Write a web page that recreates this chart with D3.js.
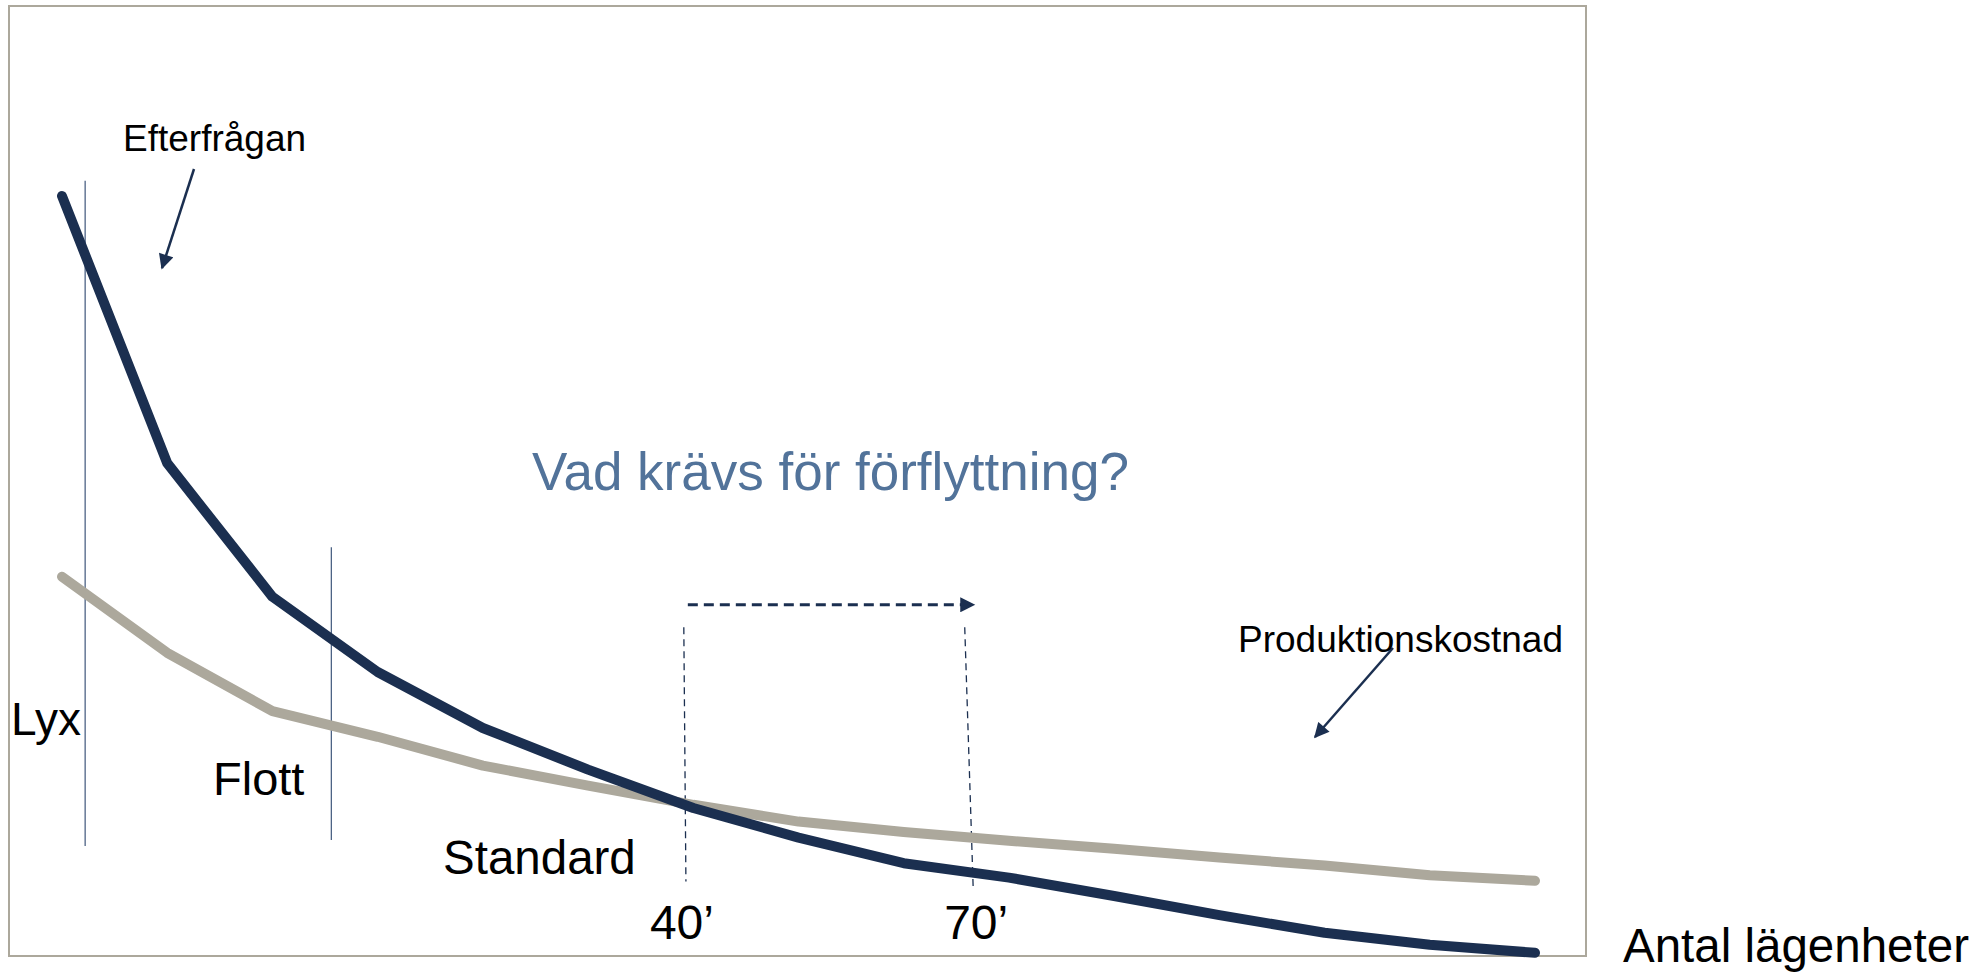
<!DOCTYPE html>
<html>
<head>
<meta charset="utf-8">
<script src="https://cdn.jsdelivr.net/npm/d3@7"></script>
<style>
  body { margin: 0; background: #fff; }
  svg { display: block; font-family: "Liberation Sans", Arial, sans-serif; }
</style>
</head>
<body>
<div id="chart"></div>
<script>
// antal lägenheter (steg längs x-axeln)
var steps = [0, 1, 2, 3, 4, 5, 6, 7, 8, 9, 10, 11, 12, 13, 14];
// efterfrågan (pris) och produktionskostnad per steg
var demand = [95, 61.6, 44.9, 35.5, 28.5, 23.3, 18.5, 14.8, 11.6, 9.8, 7.5, 5.1, 2.9, 1.4, 0.4];
var cost = [47.4, 37.9, 30.6, 27.4, 23.8, 21.3, 18.9, 16.8, 15.5, 14.4, 13.4, 12.3, 11.3, 10.1, 9.4];

// segmentgränser (x i steg) och markeringar
var segmentBounds = [{x: 0.22, top: 96.9, bottom: 13.75}, {x: 2.56, top: 51.1, bottom: 14.5}];
var segmentLabels = ["Lyx", "Flott", "Standard"];
var moveMarks = [
  {label: "40\u2019", xTop: 5.91, xBottom: 5.93, top: 41.1, bottom: 9.3},
  {label: "70\u2019", xTop: 8.58, xBottom: 8.66, top: 41.1, bottom: 8.6}
];
var moveArrowY = 43.9;

var svgWidth = 1986;
var svgHeight = 973;

var svg = d3.select("#chart")
  .append("svg")
  .attr("width", svgWidth)
  .attr("height", svgHeight);

var x = d3.scaleLinear().domain([0, 14]).range([62, 1535]);
var y = d3.scaleLinear().domain([0, 100]).range([956, 156]);

var dark = "#1b2f50";
var grey = "#aca89c";

// pilspetsar
var defs = svg.append("defs");
defs.append("marker")
  .attr("id", "tri")
  .attr("viewBox", "0 0 10 10")
  .attr("refX", 9).attr("refY", 5)
  .attr("markerUnits", "userSpaceOnUse")
  .attr("markerWidth", 16).attr("markerHeight", 15)
  .attr("orient", "auto")
  .append("path")
  .attr("d", "M0,0 L10,5 L0,10 Z")
  .attr("fill", dark);

// ram
svg.append("rect")
  .attr("x", 9).attr("y", 6)
  .attr("width", 1577).attr("height", 950)
  .attr("fill", "none")
  .attr("stroke", grey)
  .attr("stroke-width", 2);

// segment lines
svg.selectAll(".bound").data(segmentBounds).enter()
  .append("line")
  .attr("class", "bound")
  .attr("x1", d => x(d.x)).attr("x2", d => x(d.x))
  .attr("y1", d => y(d.top)).attr("y2", d => y(d.bottom))
  .attr("stroke", "#4d6385")
  .attr("stroke-width", 1.3);

// streckade lodlinjer vid 40' och 70'
svg.selectAll(".mark").data(moveMarks).enter()
  .append("line")
  .attr("class", "mark")
  .attr("x1", d => x(d.xTop)).attr("x2", d => x(d.xBottom))
  .attr("y1", d => y(d.top)).attr("y2", d => y(d.bottom))
  .attr("stroke", dark)
  .attr("stroke-width", 1.3)
  .attr("stroke-dasharray", "7,5");

// horisontell streckad pil
svg.append("line")
  .attr("x1", x(moveMarks[0].xTop) + 4)
  .attr("x2", x(moveMarks[1].xTop) + 9)
  .attr("y1", y(moveArrowY)).attr("y2", y(moveArrowY))
  .attr("stroke", dark)
  .attr("stroke-width", 3)
  .attr("stroke-dasharray", "10,6")
  .attr("marker-end", "url(#tri)");

var line = d3.line()
  .x((d, i) => x(steps[i]))
  .y(d => y(d));

svg.append("path")
  .datum(cost)
  .attr("d", line)
  .attr("fill", "none")
  .attr("stroke", grey)
  .attr("stroke-width", 10)
  .attr("stroke-linecap", "round")
  .attr("stroke-linejoin", "round");

svg.append("path")
  .datum(demand)
  .attr("d", line)
  .attr("fill", "none")
  .attr("stroke", dark)
  .attr("stroke-width", 10)
  .attr("stroke-linecap", "round")
  .attr("stroke-linejoin", "round");

// annotation arrows
svg.append("line")
  .attr("x1", 194).attr("y1", 169)
  .attr("x2", 162).attr("y2", 268)
  .attr("stroke", dark).attr("stroke-width", 2.5)
  .attr("marker-end", "url(#tri)");

svg.append("line")
  .attr("x1", 1393).attr("y1", 648)
  .attr("x2", 1315).attr("y2", 737)
  .attr("stroke", dark).attr("stroke-width", 2.5)
  .attr("marker-end", "url(#tri)");

// texter
svg.append("text")
  .attr("x", 123).attr("y", 151)
  .attr("font-size", 37)
  .text("Efterfrågan");

svg.append("text")
  .attr("x", 1238).attr("y", 652)
  .attr("font-size", 37)
  .text("Produktionskostnad");

svg.append("text")
  .attr("x", 532).attr("y", 490)
  .attr("font-size", 53)
  .attr("fill", "#52739a")
  .text("Vad krävs för förflyttning?");

var labelPos = [[11, 735, 46], [213, 795, 47], [443, 874, 47.5]];
svg.selectAll(".seg").data(segmentLabels).enter()
  .append("text")
  .attr("class", "seg")
  .attr("x", (d, i) => labelPos[i][0])
  .attr("y", (d, i) => labelPos[i][1])
  .attr("font-size", (d, i) => labelPos[i][2])
  .text(d => d);

var markShift = [-36, -29];
svg.selectAll(".marklabel").data(moveMarks).enter()
  .append("text")
  .attr("class", "marklabel")
  .attr("x", (d, i) => x(d.xBottom) + markShift[i])
  .attr("y", 939)
  .attr("font-size", 48)
  .text(d => d.label);

svg.append("text")
  .attr("x", 1623).attr("y", 962)
  .attr("font-size", 47.5)
  .text("Antal lägenheter");
</script>
</body>
</html>
